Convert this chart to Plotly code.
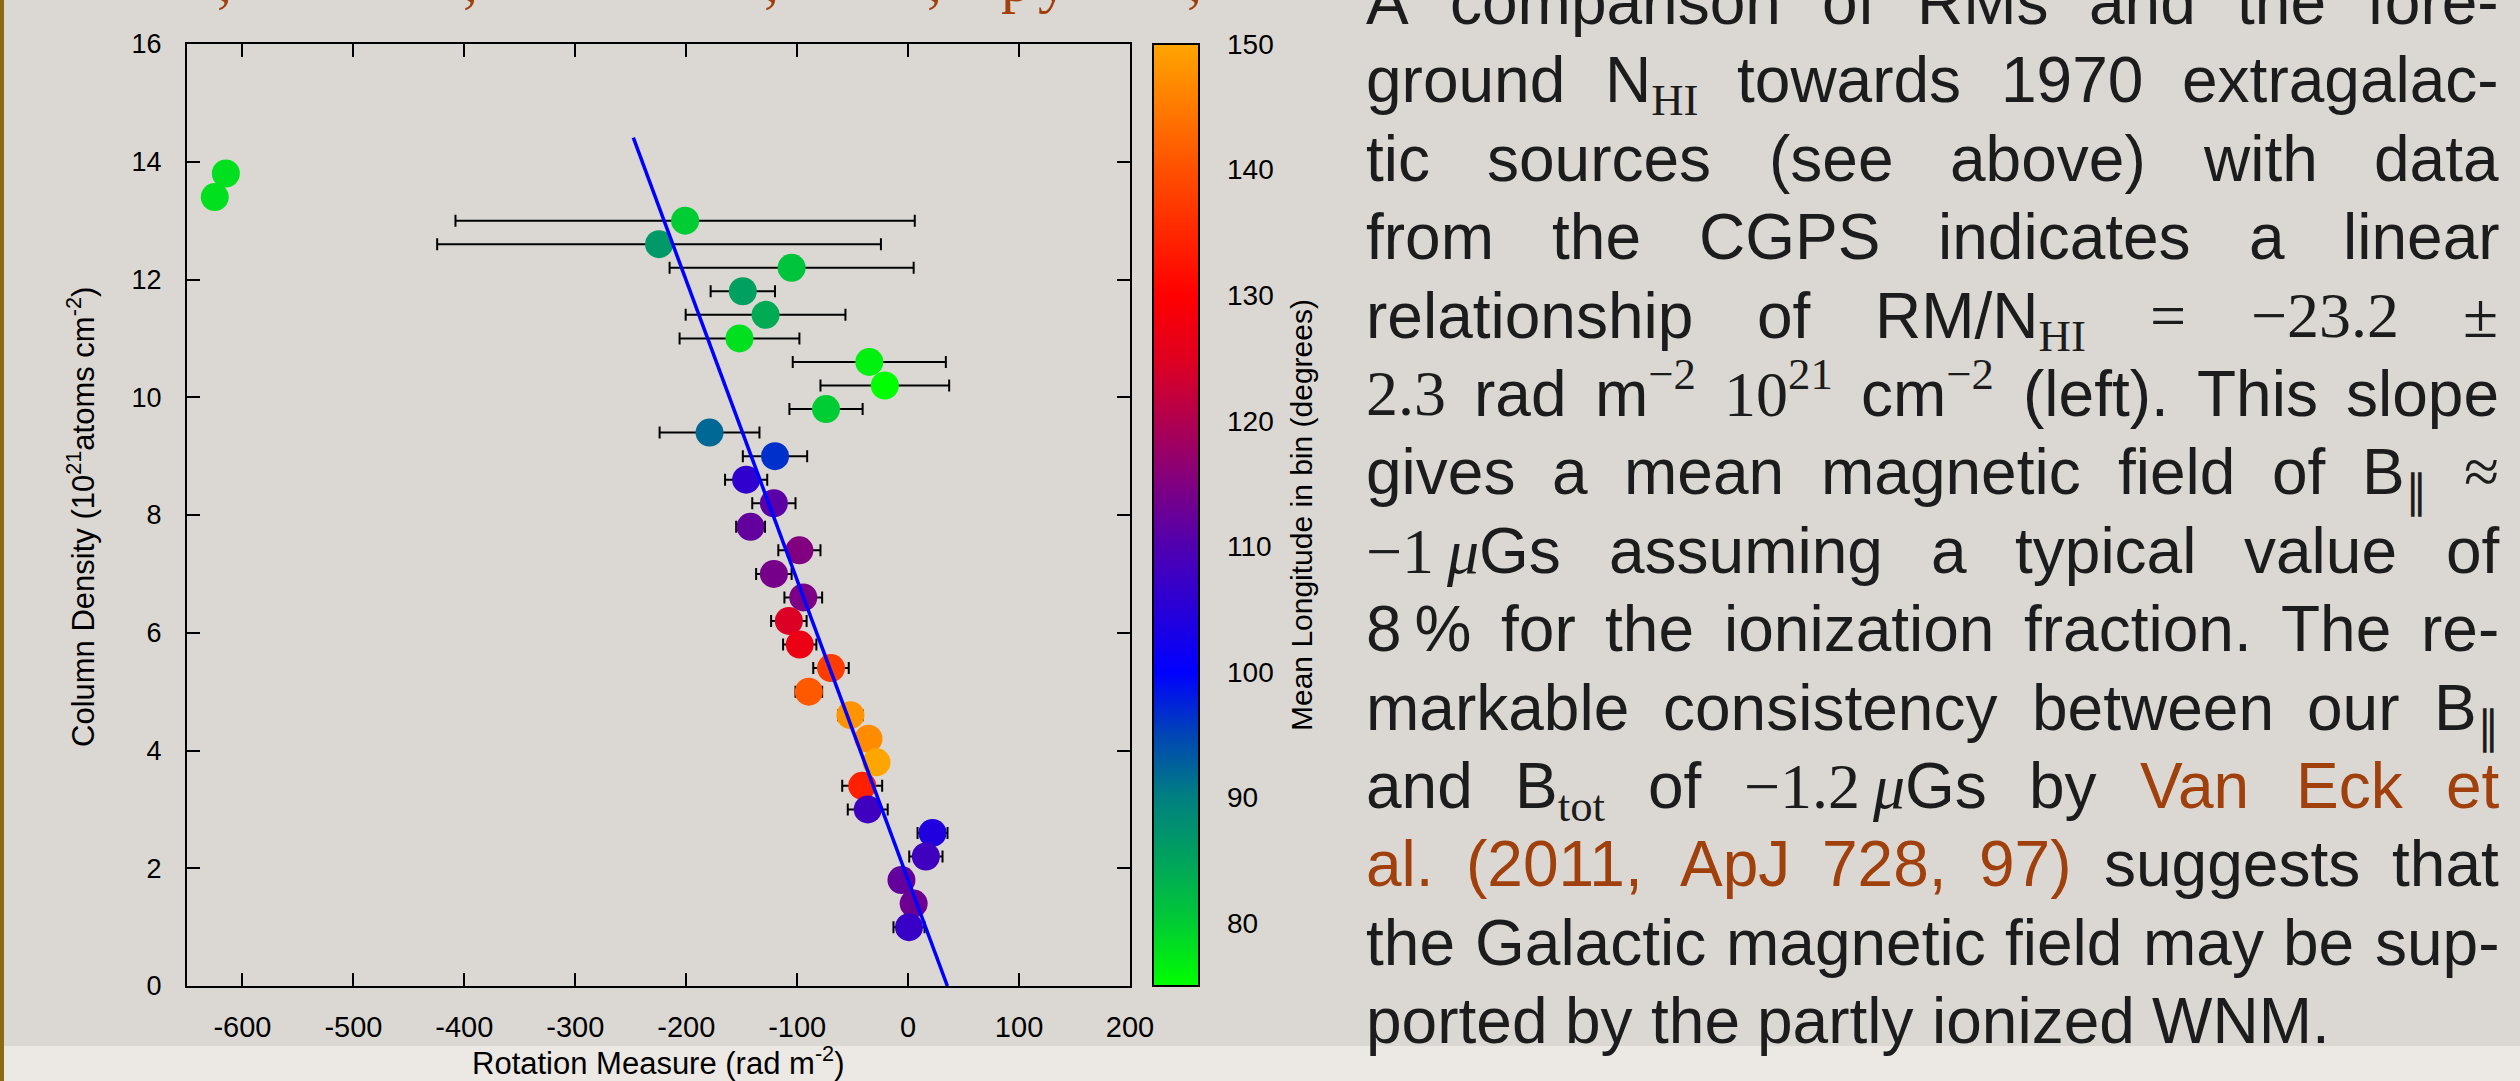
import plotly.graph_objects as go

# ---------------- data ----------------
nhi = [13.8, 13.4, 13.0, 12.6, 12.2, 11.8, 11.4, 11.0, 10.6, 10.2, 9.8, 9.4, 9.0,
       8.6, 8.2, 7.8, 7.4, 7.0, 6.6, 6.2, 5.8, 5.4, 5.0, 4.6, 4.2, 3.8, 3.4, 3.0,
       2.6, 2.2, 1.8, 1.4, 1.0]
rm = [-615, -625, -201, -224.5, -105, -149, -128.5, -152, -35, -21, -74, -179, -120,
      -146, -121, -142, -98, -121, -94.5, -107.5, -97.7, -69.5, -89.5, -52, -35.7, -28.5, -41.4, -36.4,
      22, 16, -6, 5, 0.8]
rm_err = [0, 0, 207, 200, 110, 29, 72, 54, 69, 58, 33, 45, 29,
          19, 19.5, 13, 19, 16, 17, 16, 15, 16, 12, 11, 8, 8, 18, 18,
          13.5, 15, 8, 8, 14]
mean_lon = [78, 78, 80, 86.5, 81, 85.5, 84, 78, 76.5, 75, 80, 92, 96.5,
            106, 111, 112, 115, 114, 114.5, 124.5, 127, 137.5, 141, 148, 147, 150, 134, 108,
            104, 108, 112, 113, 107]

fit_rm = [35.4, -247.7]
fit_nhi = [0.0, 14.41]

x_ticks = [-600, -500, -400, -300, -200, -100, 0, 100, 200]
x_ticktext = ["-600", "-500", "-400", "-300", "-200", "-100", "0", "100", "200"]
y_ticks = [0, 2, 4, 6, 8, 10, 12, 14, 16]
cb_ticks = [80, 90, 100, 110, 120, 130, 140, 150]

cs_vals = [75, 80, 85, 90, 95, 100, 105, 110, 115, 120, 125, 130, 140, 150]
cs_cols = ["#00ff00", "#00cc33", "#00a35c", "#008080", "#0045b5", "#0000ff", "#2800d7",
           "#5000b0", "#800080", "#b0004f", "#e0001f", "#ff0000", "#ff5000", "#ffa500"]
CMIN, CMAX = 75, 150
colorscale = [[(v - CMIN) / (CMAX - CMIN), c] for v, c in zip(cs_vals, cs_cols)]

# ---------------- geometry ----------------
W, H = 2520, 1081
ML, MR, MT, MB = 187, 1230, 44, 95
PW = W - ML - MR   # paper width in px
PH = H - MT - MB


def xp(X):
    return (X - ML) / PW


def yp(Y):
    return (H - MB - Y) / PH


SANS = "Liberation Sans, Arial, sans-serif"
SERIF = "Liberation Serif"
BLACK = "#000000"
TXT = "#1c1c1c"
BROWN = "#a0400c"

fig = go.Figure()

fig.add_trace(go.Scatter(
    x=rm, y=nhi, mode="markers",
    marker=dict(size=28, color=mean_lon, colorscale=colorscale, cmin=CMIN, cmax=CMAX,
                line=dict(width=0), showscale=True,
                colorbar=dict(x=xp(1153), xanchor="left", xpad=0, y=0.5, yanchor="middle",
                              ypad=0, len=1, lenmode="fraction", thickness=46,
                              outlinewidth=2, outlinecolor=BLACK,
                              ticks="", showticklabels=False)),
    error_x=dict(type="data", array=rm_err, visible=True, color=BLACK, thickness=2, width=6),
    showlegend=False, hoverinfo="skip"))

fig.add_trace(go.Scatter(x=fit_rm, y=fit_nhi, mode="lines",
                         line=dict(color="#0000ff", width=3.5),
                         showlegend=False, hoverinfo="skip"))

# helper traces so that the colour-bar tick axes are drawn
for ax in ["y3", "y4"]:
    fig.add_trace(go.Scatter(x=[0], y=[100], yaxis=ax, mode="markers",
                             marker=dict(opacity=0), showlegend=False, hoverinfo="skip"))

axis_common = dict(ticks="inside", ticklen=13, tickwidth=2, tickcolor=BLACK,
                   showline=True, linewidth=2, linecolor=BLACK, mirror="ticks",
                   showgrid=False, zeroline=False)

fig.update_layout(
    width=W, height=H,
    margin=dict(l=ML, r=MR, t=MT, b=MB, pad=0),
    paper_bgcolor="#dbd8d3", plot_bgcolor="rgba(0,0,0,0)",
    font=dict(family=SANS, color=BLACK),
    xaxis=dict(domain=[0, (1130 - ML) / PW], range=[-650, 200], tickvals=x_ticks,
               ticktext=x_ticktext, tickfont=dict(size=29, family=SANS, color=BLACK),
               ticklabelstandoff=14, **axis_common),
    yaxis=dict(range=[0, 16], tickvals=y_ticks, tickfont=dict(size=27, family=SANS, color=BLACK),
               ticklabelstandoff=18, **axis_common),
    yaxis3=dict(overlaying="y", anchor="free", position=xp(1200), side="right",
                range=[CMIN, CMAX], tickvals=cb_ticks, ticks="inside", ticklen=11,
                tickwidth=2, tickcolor=BLACK, showline=False, showgrid=False, zeroline=False,
                tickfont=dict(size=28, family=SANS, color=BLACK), ticklabelstandoff=26),
    yaxis4=dict(overlaying="y", anchor="free", position=xp(1153), side="left",
                range=[CMIN, CMAX], tickvals=cb_ticks, ticks="inside", ticklen=11,
                tickwidth=2, tickcolor=BLACK, showline=False, showgrid=False, zeroline=False,
                showticklabels=False),
)

shapes = [
    dict(type="rect", xref="paper", yref="paper", x0=xp(0), x1=xp(2520), y0=yp(1081), y1=yp(1046),
         fillcolor="#ece8e3", line=dict(width=0), layer="below"),
    dict(type="rect", xref="paper", yref="paper", x0=xp(0), x1=xp(4), y0=yp(1081), y1=yp(0),
         fillcolor="#8c6a12", line=dict(width=0), layer="above"),
]
fig.update_layout(shapes=shapes)

ann = []
# axis titles
ann.append(dict(text="Rotation Measure (rad m<sup>-2</sup>)", x=xp(658), y=yp(1061),
                xref="paper", yref="paper", xanchor="center", yanchor="middle",
                showarrow=False, font=dict(size=31, family=SANS, color=BLACK)))
ann.append(dict(text="Column Density (10<sup>21</sup>atoms cm<sup>-2</sup>)", x=xp(81), y=yp(517),
                xref="paper", yref="paper", xanchor="center", yanchor="middle", textangle=-90,
                showarrow=False, font=dict(size=31, family=SANS, color=BLACK)))
ann.append(dict(text="Mean Longitude in bin (degrees)", x=xp(1301), y=yp(515),
                xref="paper", yref="paper", xanchor="center", yanchor="middle", textangle=-90,
                showarrow=False, font=dict(size=30, family=SANS, color=BLACK)))

# clipped brown text from the line above the chart (only its lowest parts are visible)
top_glyphs = [(",", 224), (",", 470), (",", 771), (",", 934), ("p", 1016), ("y", 1053), (",", 1194)]
for g, gx in top_glyphs:
    ann.append(dict(text=g, x=xp(gx), y=yp(16), xref="paper", yref="paper",
                    xanchor="center", yanchor="bottom", showarrow=False,
                    font=dict(size=60, family=SERIF, color=BROWN)))

# ---------------- justified paragraph ----------------
AW = {}
for chars, w in [("'", 191), ("ijl", 222), (" !,./:;Itf[]", 278), ("()-r`\"", 333),
                 ("cksvxyzJ", 500), ("abdeghnopqu0123456789L_$?", 556), ("=+±−≈<>~", 584),
                 ("FTZ", 611), ("ABEKPSVXY", 667), ("CDHNRUw", 722), ("GOQ", 778),
                 ("mM", 833), ("%", 889), ("W", 944)]:
    for ch in chars:
        AW[ch] = w
TW = {}
for chars, w in [(" .,", 250), ("tijl", 278), ("()-rfI", 333), ("s", 389), ("ce", 444),
                 ("0123456789abdghknopquvxyμ∥", 500), ("≈", 549), ("=+±−", 564), ("H", 722)]:
    for ch in chars:
        TW[ch] = w
AW["\u2009"] = 200
TW["\u2009"] = 200

FS = 64
LEFT, RIGHT = 1366, 2499

para = [
    "A comparison of RMs and the fore-".split(),
    ["ground", [("N", "s"), ("HI", "m_")], "towards", "1970", "extragalac-"],
    "tic sources (see above) with data".split(),
    "from the CGPS indicates a linear".split(),
    ["relationship", "of", [("RM/N", "s"), ("HI", "m_")], [("=", "m")], [("−23.2", "m")], [("±", "m")]],
    [[("2.3", "m")], "rad", [("m", "s"), ("−2", "m^")], [("10", "m"), ("21", "m^")],
     [("cm", "s"), ("−2", "m^")], "(left).", "This", "slope"],
    "gives a mean magnetic field of".split() + [[("B", "s"), ("∥", "m_")], [("≈", "m")]],
    [[("−1", "m"), ("\u2009", "m"), ("μ", "mi"), ("Gs", "s")]] + "assuming a typical value of".split(),
    [[("8\u2009%", "s")]] + "for the ionization fraction. The re-".split(),
    "markable consistency between our".split() + [[("B", "s"), ("∥", "m_")]],
    ["and", [("B", "s"), ("tot", "m_")], "of", [("−1.2", "m"), ("\u2009", "m"), ("μ", "mi"), ("Gs", "s")],
     "by", "@Van", "@Eck", "@et"],
    ["@al.", "@(2011,", "@ApJ", "@728,", "@97)", "suggests", "that"],
    "the Galactic magnetic field may be sup-".split(),
    "ported by the partly ionized WNM.".split(),
]
BASE0, LEAD = 24, 78.4
baselines = [BASE0 + LEAD * i for i in range(len(para))]


def seg_width(text, kind):
    table = TW if "m" in kind else AW
    w = sum(table.get(ch, 556) for ch in text) / 1000.0 * FS
    if "_" in kind or "^" in kind:
        w *= 0.7
    return w


def seg_html(text, kind):
    t = text
    if "i" in kind:
        t = "<i>" + t + "</i>"
    if "m" in kind:
        t = '<span style="font-family:Liberation Serif">' + t + "</span>"
    if "_" in kind:
        t = "<sub>" + t + "</sub>"
    if "^" in kind:
        t = "<sup>" + t + "</sup>"
    return t


for li, words in enumerate(para):
    items = []
    for wd in words:
        color = TXT
        if isinstance(wd, str):
            if wd.startswith("@"):
                color = BROWN
                wd = wd[1:]
            segs = [(wd, "s")]
        else:
            segs = wd
        width = sum(seg_width(t, k) for t, k in segs)
        html = "".join(seg_html(t, k) for t, k in segs)
        has_sup = any("^" in k for _, k in segs)
        items.append((html, width, color, has_sup))
    total = sum(it[1] for it in items)
    last = li == len(para) - 1
    if last or len(items) < 2:
        gap = 0.278 * FS
    else:
        gap = (RIGHT - LEFT - total) / (len(items) - 1)
    xcur = LEFT
    bl = baselines[li]
    for html, width, color, has_sup in items:
        if has_sup:
            yy, ya = yp(bl + 0.212 * FS + 2), "bottom"
        else:
            yy, ya = yp(bl - 0.905 * FS - 2), "top"
        ann.append(dict(text=html, x=xp(xcur - 2), y=yy, xref="paper", yref="paper",
                        xanchor="left", yanchor=ya, showarrow=False,
                        font=dict(size=FS, family=SANS, color=color)))
        xcur += width + gap

fig.update_layout(annotations=ann)

fig.write_html("out.html")
